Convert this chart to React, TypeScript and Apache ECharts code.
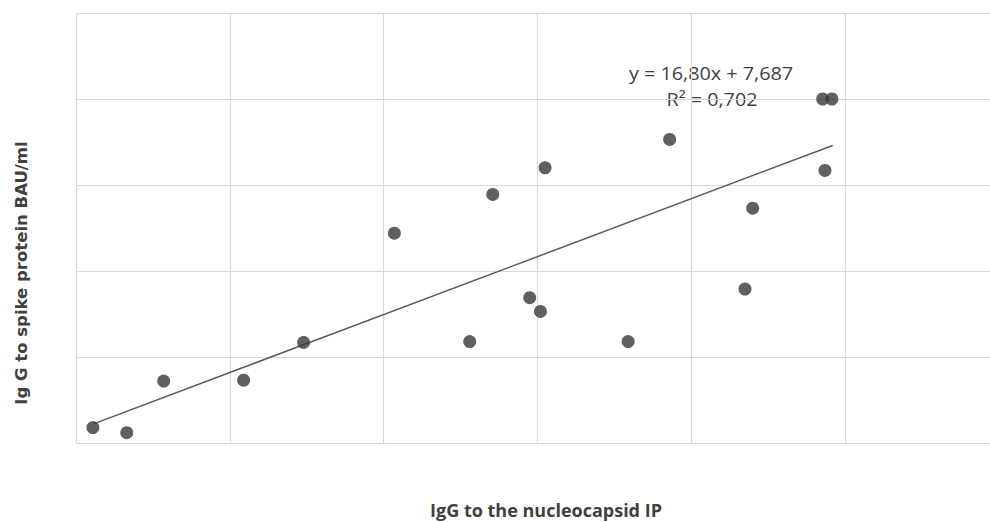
import React, { useEffect, useRef } from "react";
import * as echarts from "echarts";

// Scatter points (axis units: x grid steps, y grid steps; axes carry no tick labels)
const xValues = [0.11, 0.33, 0.57, 1.09, 1.48, 2.07, 2.56, 2.71, 2.95, 3.02, 3.05, 3.59, 3.86, 4.35, 4.40, 4.855, 4.915, 4.87];
const yValues = [0.18, 0.12, 0.72, 0.73, 1.17, 2.44, 1.18, 2.89, 1.69, 1.53, 3.20, 1.18, 3.53, 1.79, 2.73, 4.0, 4.0, 3.17];

// Linear trendline endpoints as drawn
const trendX = [0.11, 4.92];
const trendY = [0.22, 3.46];

const equationText = "y = 16,80x + 7,687";
const r2Text = "R² = 0,702";
const xTitle = "IgG to the nucleocapsid IP";
const yTitle = "Ig G to spike protein BAU/ml";

export default function App() {
  const ref = useRef<HTMLDivElement>(null);
  useEffect(() => {
    document.body.style.margin = "0";
    if (!ref.current) return;
    const chart = echarts.init(ref.current, null, { renderer: "svg" });
    const points = xValues.map((x, i) => [x, yValues[i]]);
    const trend = trendX.map((x, i) => [x, trendY[i]]);
    chart.setOption({
      animation: false,
      backgroundColor: "#ffffff",
      grid: { left: 76, top: 13, right: 0, height: 430 },
      xAxis: {
        type: "value",
        min: 0,
        max: 5.943,
        interval: 1,
        axisLine: { show: false },
        axisTick: { show: false },
        axisLabel: { show: false },
        splitLine: { show: true, showMaxLine: false, lineStyle: { color: "#d9d9d9", width: 1.2 } },
      },
      yAxis: {
        type: "value",
        min: 0,
        max: 5,
        interval: 1,
        axisLine: { show: false },
        axisTick: { show: false },
        axisLabel: { show: false },
        splitLine: { show: true, lineStyle: { color: "#d9d9d9", width: 1.2 } },
      },
      series: [
        {
          type: "line",
          data: trend,
          symbol: "none",
          lineStyle: { color: "#5a5a5a", width: 1.5 },
          z: 2,
        },
        {
          type: "scatter",
          data: points,
          symbol: "circle",
          symbolSize: 13,
          itemStyle: { color: "#383838" },
          z: 3,
        },
      ],
      graphic: [
        {
          type: "text",
          x: 711,
          y: 73,
          scaleX: 1.1,
          style: {
            text: equationText,
            fill: "#404040",
            font: "18px 'Open Sans', sans-serif",
            align: "center",
            verticalAlign: "middle",
          },
        },
        {
          type: "text",
          x: 712,
          y: 99,
          scaleX: 1.1,
          style: {
            text: r2Text,
            fill: "#404040",
            font: "18px 'Open Sans', sans-serif",
            align: "center",
            verticalAlign: "middle",
          },
        },
        {
          type: "text",
          x: 546,
          y: 510,
          style: {
            text: xTitle,
            fill: "#404040",
            font: "bold 18px 'Open Sans', sans-serif",
            align: "center",
            verticalAlign: "middle",
          },
        },
        {
          type: "text",
          x: 21,
          y: 273,
          rotation: Math.PI / 2,
          style: {
            text: yTitle,
            fill: "#404040",
            font: "bold 16.5px 'DejaVu Sans', sans-serif",
            align: "center",
            verticalAlign: "middle",
          },
        },
      ],
    });
    return () => chart.dispose();
  }, []);
  return <div ref={ref} style={{ width: 990, height: 522 }} />;
}
